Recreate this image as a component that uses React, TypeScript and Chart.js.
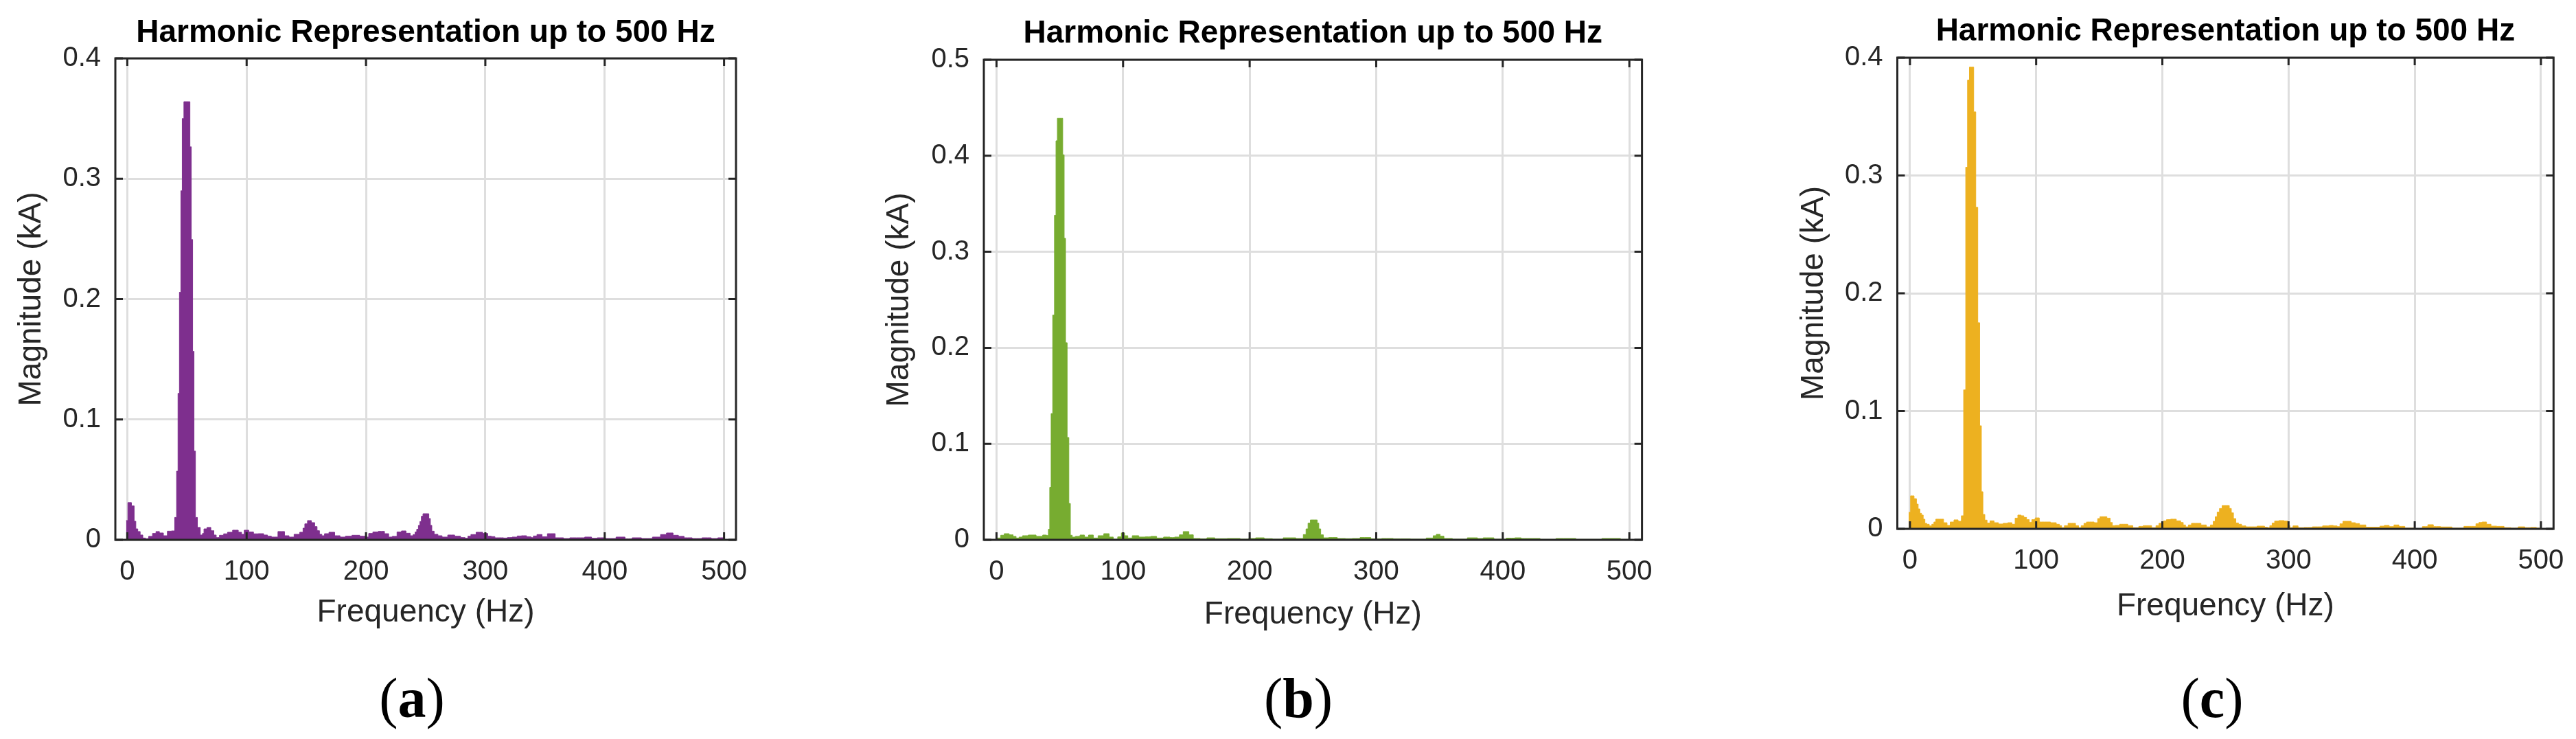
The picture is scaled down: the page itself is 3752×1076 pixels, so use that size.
import React, { useEffect, useRef } from 'react';
import { Chart, registerables } from 'chart.js';

Chart.register(...registerables);

// ---------- text ----------
const TITLE = 'Harmonic Representation up to 500 Hz';
const X_TITLE = 'Frequency (Hz)';
const Y_TITLE = 'Magnitude (kA)';
const PANEL_LETTERS = ['a', 'b', 'c'];

// ---------- ticks ----------
const X_TICKS = [0, 100, 200, 300, 400, 500];
const Y_TICKS_A = [0, 0.1, 0.2, 0.3, 0.4];
const Y_TICKS_B = [0, 0.1, 0.2, 0.3, 0.4, 0.5];
const Y_TICKS_C = [0, 0.1, 0.2, 0.3, 0.4];

// ---------- data: [frequency Hz, magnitude kA] ----------
const SPECTRUM_A: [number, number][] = [
  [-1, 0.016], [2, 0.0309], [5, 0.0282], [6.5, 0.0154], [7.8, 0.0091], [9.8, 0.0069], [11.8, 0.004],
  [14.2, 0.0015], [16.3, 0.001], [19.5, 0.0029], [22.8, 0.0053], [25.3, 0.0069], [28.5, 0.0057],
  [32, 0.0034], [35.2, 0.0072], [38.8, 0.0074], [40.7, 0.0186], [41.9, 0.057], [43.1, 0.1217],
  [44.3, 0.2057], [45.5, 0.29], [46.6, 0.35], [48.3, 0.364], [50.3, 0.364], [52, 0.364],
  [53, 0.3265], [54.2, 0.2495], [55.3, 0.1566], [56.5, 0.0737], [57.7, 0.0186], [59.8, 0.0103],
  [62.5, 0.004], [63.5, 0.0053], [65, 0.0091], [68.5, 0.0103], [71.5, 0.0076], [73.5, 0.004],
  [75.5, 0.0019], [79, 0.0038], [82.5, 0.005], [85.5, 0.0063], [91, 0.008], [95, 0.0063],
  [96.5, 0.0046], [99.5, 0.008], [104, 0.0065], [107.5, 0.005], [112, 0.0051], [116.5, 0.004],
  [118.5, 0.003], [123, 0.0023], [129.5, 0.0069], [134, 0.0034], [137, 0.0023], [142.5, 0.0046],
  [146.5, 0.0063], [148, 0.0097], [149.5, 0.0133], [152.5, 0.016], [156, 0.0143], [158, 0.011],
  [160, 0.0076], [162, 0.0046], [164, 0.0034], [166.5, 0.0051], [171.5, 0.0063], [176, 0.0034],
  [180.5, 0.0023], [185, 0.003], [191.5, 0.0038], [198, 0.003], [200.5, 0.0023], [204, 0.0053],
  [207.5, 0.0065], [213, 0.007], [218, 0.0051], [220, 0.0023], [224, 0.0029], [228, 0.0065],
  [231.5, 0.0074], [235.5, 0.0055], [238.5, 0.0034], [240.5, 0.0044], [241.8, 0.0065],
  [243.2, 0.0088], [244.6, 0.012], [245.8, 0.0152], [247, 0.0196], [248.5, 0.0217], [250.5, 0.0217],
  [252, 0.0217], [253.3, 0.0177], [254.6, 0.012], [255.7, 0.0072], [258.5, 0.0046], [262, 0.0034],
  [265.5, 0.0023], [271.5, 0.004], [277, 0.003], [281.5, 0.0019], [284.5, 0.0013], [286.3, 0.003],
  [289.5, 0.0044], [295, 0.0063], [300.5, 0.0053], [303.5, 0.003], [306.5, 0.0027], [309.5, 0.0017],
  [313.5, 0.0017], [317, 0.0015], [320, 0.0019], [325, 0.0023], [328.5, 0.0032], [332, 0.0034],
  [337, 0.0025], [339.5, 0.0019], [341, 0.0032], [345.5, 0.0044], [349.5, 0.0025], [354.5, 0.0051],
  [362.5, 0.0017], [368.5, 0.0011], [373, 0.0017], [379.5, 0.0017], [387, 0.0023], [391, 0.0013],
  [396.5, 0.0017], [405, 0.0011], [414, 0.0023], [420, 0.0008], [426, 0.0017], [435.5, 0.0011],
  [444.5, 0.0023], [449, 0.0044], [454.5, 0.0057], [460, 0.0038], [463.5, 0.0029], [469.5, 0.0017],
  [477, 0.0011], [486, 0.0017], [492.5, 0.0011], [497, 0.0017], [500, 0.0017],
];

const SPECTRUM_B: [number, number][] = [
  [0.5, 0.0019], [2.5, 0.0019], [4.2, 0.0048], [8, 0.0064], [12, 0.0052], [14.2, 0.0036],
  [16.7, 0.0019], [19, 0.0029], [22.2, 0.0043], [28, 0.005], [34.5, 0.0036], [38.5, 0.005],
  [40.5, 0.0045], [41.5, 0.011], [42.6, 0.0547], [43.7, 0.1315], [45.1, 0.234], [46.5, 0.338],
  [47.5, 0.4156], [48.7, 0.439], [50.2, 0.439], [51.7, 0.439], [52.9, 0.401], [54, 0.314],
  [55.1, 0.2053], [56.5, 0.1066], [57.8, 0.0379], [58.9, 0.0048], [60.7, 0.0029], [64, 0.0036],
  [68, 0.005], [71, 0.0029], [74.5, 0.005], [78.5, 0.0019], [82, 0.0043], [87.5, 0.0064],
  [90.5, 0.0029], [94, 0.0007], [97.5, 0.0031], [99.8, 0.0072], [102.5, 0.0043], [105, 0.0019],
  [109.5, 0.0043], [115.3, 0.0029], [119.8, 0.0031], [124, 0.0036], [129, 0.0019], [135, 0.0029],
  [139, 0.0024], [142.5, 0.0029], [146.5, 0.0052], [148.5, 0.0086], [151, 0.0086], [153, 0.0052],
  [158, 0.0014], [164, 0.001], [168.5, 0.0021], [176.5, 0.0012], [188, 0.0014], [197, 0.0007],
  [201.5, 0.0014], [208, 0.0021], [215, 0.0012], [221, 0.0007], [232, 0.0021], [241, 0.0014],
  [243.8, 0.0055], [245.3, 0.0114], [247, 0.0174], [249, 0.0207], [251, 0.0207], [252.8, 0.0207],
  [254, 0.0174], [255.3, 0.0114], [257, 0.0052], [259.5, 0.0021], [265.5, 0.0024], [273, 0.0014],
  [278.5, 0.0012], [283.5, 0.0014], [291, 0.0024], [300.5, 0.001], [308, 0.0014], [319, 0.001],
  [335, 0.0007], [344, 0.0019], [346, 0.0043], [349, 0.0057], [352, 0.0038], [355, 0.0014],
  [365.5, 0.0007], [378.5, 0.0021], [381.5, 0.0014], [387.5, 0.0021], [398.5, 0.0007],
  [407, 0.0017], [412, 0.0021], [417, 0.0014], [423, 0.0014], [436, 0.0005], [448, 0.0014],
  [467.5, 0.0005], [489, 0.0014], [497, 0.0005], [500, 0.0005],
];

const SPECTRUM_C: [number, number][] = [
  [-1, 0.014], [2, 0.028], [4.5, 0.0256], [5.8, 0.021], [7.2, 0.0169], [8.5, 0.0132], [9.8, 0.0117],
  [11.2, 0.0082], [12.5, 0.0047], [14, 0.0039], [16.5, 0.0025], [18.2, 0.0039], [19.8, 0.0058],
  [21.2, 0.0082], [25, 0.0082], [28.3, 0.0052], [30.5, 0.0029], [33.3, 0.0058], [36.5, 0.0076],
  [39.8, 0.0064], [41.7, 0.0111], [43.4, 0.118], [45, 0.307], [46.3, 0.381], [48, 0.392],
  [49.7, 0.392], [51.3, 0.354], [53, 0.273], [54.5, 0.175], [56, 0.0875], [57.2, 0.0315],
  [58.4, 0.0122], [60.3, 0.0074], [61.9, 0.0049], [65, 0.0068], [68.3, 0.0052], [72, 0.0041],
  [75.8, 0.0047], [79.2, 0.0052], [82.5, 0.0039], [84.2, 0.0091], [86.8, 0.0117], [89.2, 0.0111],
  [91.3, 0.0097], [93.5, 0.0078], [95.6, 0.0056], [97.6, 0.0078], [100.8, 0.0093], [104.2, 0.0058],
  [108.5, 0.0058], [114.3, 0.0052], [117.6, 0.0039], [119.3, 0.0027], [121, 0.001], [123.8, 0.0027],
  [126.8, 0.0047], [129.8, 0.0047], [132.6, 0.0027], [134.6, 0.001], [136.8, 0.0027], [139, 0.0047],
  [140.8, 0.0058], [144, 0.0058], [147.8, 0.0052], [149.7, 0.0087], [151.5, 0.0103], [154.5, 0.0103],
  [157.6, 0.0091], [159.7, 0.0054], [161, 0.0027], [164.3, 0.0029], [168, 0.0039], [171, 0.0039],
  [174.3, 0.0027], [179, 0.001], [183.7, 0.0021], [186, 0.0027], [189.5, 0.0027], [193.5, 0.001],
  [196.4, 0.0027], [198.3, 0.0047], [200, 0.0054], [202.3, 0.0068], [204.3, 0.0078], [208.8, 0.0082],
  [213.3, 0.0068], [215.7, 0.0054], [217.4, 0.0033], [219.3, 0.0017], [222, 0.0033], [224.2, 0.0047],
  [228.2, 0.0047], [233, 0.0033], [236.7, 0.0017], [239.5, 0.0033], [241.2, 0.0064], [242.6, 0.0103],
  [244.3, 0.0142], [246.3, 0.0173], [248.5, 0.0198], [250.5, 0.0198], [252.3, 0.0198], [253.8, 0.0173],
  [255.5, 0.0136], [257.2, 0.0087], [259.3, 0.005], [261.3, 0.0039], [264.3, 0.0025], [268, 0.0017],
  [273, 0.0017], [277.2, 0.0023], [279.8, 0.0023], [282.2, 0.0014], [284.3, 0.001], [286, 0.0027],
  [288, 0.0049], [290, 0.0066], [294.5, 0.007], [298.5, 0.0066], [300.5, 0.0027], [301.8, 0.001],
  [305.3, 0.0025], [309.8, 0.001], [314.8, 0.0012], [323, 0.0017], [331, 0.0025], [333.5, 0.0029],
  [337.5, 0.0025], [339.5, 0.0019], [342, 0.0043], [344.3, 0.0064], [347.8, 0.0064], [351.5, 0.0052],
  [354.5, 0.0045], [358, 0.0033], [364.5, 0.0014], [371, 0.0014], [373.8, 0.0023], [378, 0.0029],
  [381.5, 0.0019], [385.6, 0.0033], [389.3, 0.0021], [395, 0.0006], [403.8, 0], [408.3, 0.0019],
  [412.5, 0.0035], [417, 0.0019], [424, 0.0016], [435, 0.0006], [443, 0.0021], [447, 0.0021],
  [450, 0.0043], [451.8, 0.0054], [455, 0.0058], [458.8, 0.0039], [462, 0.0023], [468, 0.0021],
  [473.5, 0.001], [479, 0.0006], [485, 0.0017], [489.5, 0.001], [494.3, 0.0012], [498.5, 0.0006],
  [500, 0.0006],
];

// ---------- style / layout ----------
const FONT = '"Liberation Sans", Arial, sans-serif';
const INK = '#262626';
const GRID = '#dedede';
const CANVAS_H = 960;
const TICK_LEN = 11;
const LH_AXIS_TITLE = 46 * 1.2;

type Panel = {
  letter: string;
  left: number;
  width: number;
  area: { l: number; r: number; t: number; b: number };
  yMax: number;
  yTicks: number[];
  data: [number, number][];
  color: string;
  titleCY: number;
  xTitleCY: number;
  yTitleCX: number;
  letterCX: number;
};

const PANELS: Panel[] = [
  { letter: PANEL_LETTERS[0], left: 0, width: 1250, area: { l: 168, r: 1072, t: 85, b: 786 }, yMax: 0.4, yTicks: Y_TICKS_A, data: SPECTRUM_A, color: '#7E2F8E', titleCY: 48, xTitleCY: 892, yTitleCX: 46, letterCX: 600 },
  { letter: PANEL_LETTERS[1], left: 1250, width: 1250, area: { l: 183, r: 1141.6, t: 87, b: 786 }, yMax: 0.5, yTicks: Y_TICKS_B, data: SPECTRUM_B, color: '#77AC30', titleCY: 49, xTitleCY: 895, yTitleCX: 60, letterCX: 1891 },
  { letter: PANEL_LETTERS[2], left: 2500, width: 1252, area: { l: 263.5, r: 1219.3, t: 84, b: 770 }, yMax: 0.4, yTicks: Y_TICKS_C, data: SPECTRUM_C, color: '#EDB120', titleCY: 46, xTitleCY: 883, yTitleCX: 142, letterCX: 3222 },
];

const framePlugin = {
  id: 'matlabFrame',
  afterDatasetsDraw(chart: any) {
    const { ctx, chartArea } = chart;
    const { left, right, top, bottom } = chartArea;
    const xs = chart.scales.x;
    const ys = chart.scales.y;
    ctx.save();
    ctx.strokeStyle = INK;
    ctx.lineWidth = 3;
    ctx.beginPath();
    for (const t of xs.ticks) {
      const px = xs.getPixelForValue(t.value);
      ctx.moveTo(px, bottom);
      ctx.lineTo(px, bottom - TICK_LEN);
      ctx.moveTo(px, top);
      ctx.lineTo(px, top + TICK_LEN);
    }
    for (const t of ys.ticks) {
      const py = ys.getPixelForValue(t.value);
      ctx.moveTo(left, py);
      ctx.lineTo(left + TICK_LEN, py);
      ctx.moveTo(right, py);
      ctx.lineTo(right - TICK_LEN, py);
    }
    ctx.stroke();
    ctx.strokeRect(left, top, right - left, bottom - top);
    ctx.restore();
  },
};

function PanelChart({ p }: { p: Panel }) {
  const ref = useRef<HTMLCanvasElement | null>(null);
  useEffect(() => {
    if (!ref.current) return;
    const padLeft = p.yTitleCX - LH_AXIS_TITLE / 2;
    const yWidth = p.area.l - padLeft;
    const padRight = p.width - p.area.r;
    const titleLH = 46 * 1.2;
    const titleTop = p.titleCY - titleLH / 2;
    const titleBottom = p.area.t - p.titleCY - titleLH / 2;
    const xHeight = p.xTitleCY - p.area.b + LH_AXIS_TITLE / 2;
    const padBottom = CANVAS_H - p.area.b - xHeight;

    const chart = new Chart(ref.current, {
      type: 'line',
      data: {
        datasets: [
          {
            data: p.data.map(([f, m]) => ({ x: f, y: m })),
            borderColor: p.color,
            backgroundColor: p.color,
            borderWidth: 1,
            pointRadius: 0,
            fill: 'origin',
            stepped: 'middle',
            tension: 0,
          },
        ],
      },
      options: {
        responsive: false,
        animation: false,
        layout: {
          autoPadding: false,
          padding: { left: padLeft, right: padRight, top: 0, bottom: padBottom },
        },
        plugins: {
          legend: { display: false },
          tooltip: { enabled: false },
          title: {
            display: true,
            text: TITLE,
            fullSize: false,
            color: '#000000',
            font: { family: FONT, size: 46, weight: 'bold', lineHeight: 1.2 },
            padding: { top: titleTop, bottom: titleBottom },
          },
        },
        scales: {
          x: {
            type: 'linear',
            min: -10,
            max: 510,
            afterBuildTicks: (s: any) => {
              s.ticks = X_TICKS.map((v) => ({ value: v }));
            },
            afterFit: (s: any) => {
              s.height = xHeight;
              s.paddingLeft = 0;
              s.paddingRight = 0;
            },
            grid: { color: GRID, lineWidth: 3, drawTicks: false },
            border: { display: false },
            ticks: {
              padding: 23,
              color: INK,
              font: { family: FONT, size: 40, lineHeight: 1.2 },
              maxRotation: 0,
              autoSkip: false,
              callback: (v: any) => String(v),
            },
            title: {
              display: true,
              text: X_TITLE,
              color: INK,
              font: { family: FONT, size: 46, lineHeight: 1.2 },
              padding: 0,
            },
          },
          y: {
            type: 'linear',
            min: 0,
            max: p.yMax,
            afterBuildTicks: (s: any) => {
              s.ticks = p.yTicks.map((v) => ({ value: v }));
            },
            afterFit: (s: any) => {
              s.width = yWidth;
              s.paddingTop = 0;
              s.paddingBottom = 0;
            },
            grid: { color: GRID, lineWidth: 3, drawTicks: false },
            border: { display: false },
            ticks: {
              padding: 21,
              color: INK,
              font: { family: FONT, size: 40, lineHeight: 1.2 },
              autoSkip: false,
              callback: (v: any) => String(v),
            },
            title: {
              display: true,
              text: Y_TITLE,
              color: INK,
              font: { family: FONT, size: 46, lineHeight: 1.2 },
              padding: 0,
            },
          },
        },
      } as any,
      plugins: [framePlugin],
    });
    return () => chart.destroy();
  }, [p]);

  return (
    <canvas
      ref={ref}
      width={p.width}
      height={CANVAS_H}
      style={{ position: 'absolute', left: p.left, top: 0, width: p.width, height: CANVAS_H }}
    />
  );
}

export default function App() {
  return (
    <div style={{ position: 'absolute', left: 0, top: 0, width: 3752, height: 1076, background: '#ffffff', overflow: 'hidden' }}>
      {PANELS.map((p) => (
        <PanelChart key={p.letter} p={p} />
      ))}
      {PANELS.map((p) => (
        <div
          key={'lbl-' + p.letter}
          style={{
            position: 'absolute',
            left: p.letterCX - 100,
            width: 200,
            top: 976,
            textAlign: 'center',
            fontFamily: '"Liberation Serif", "Times New Roman", serif',
            fontSize: 82,
            lineHeight: '82px',
            color: '#000000',
          }}
        >
          (<b>{p.letter}</b>)
        </div>
      ))}
    </div>
  );
}
